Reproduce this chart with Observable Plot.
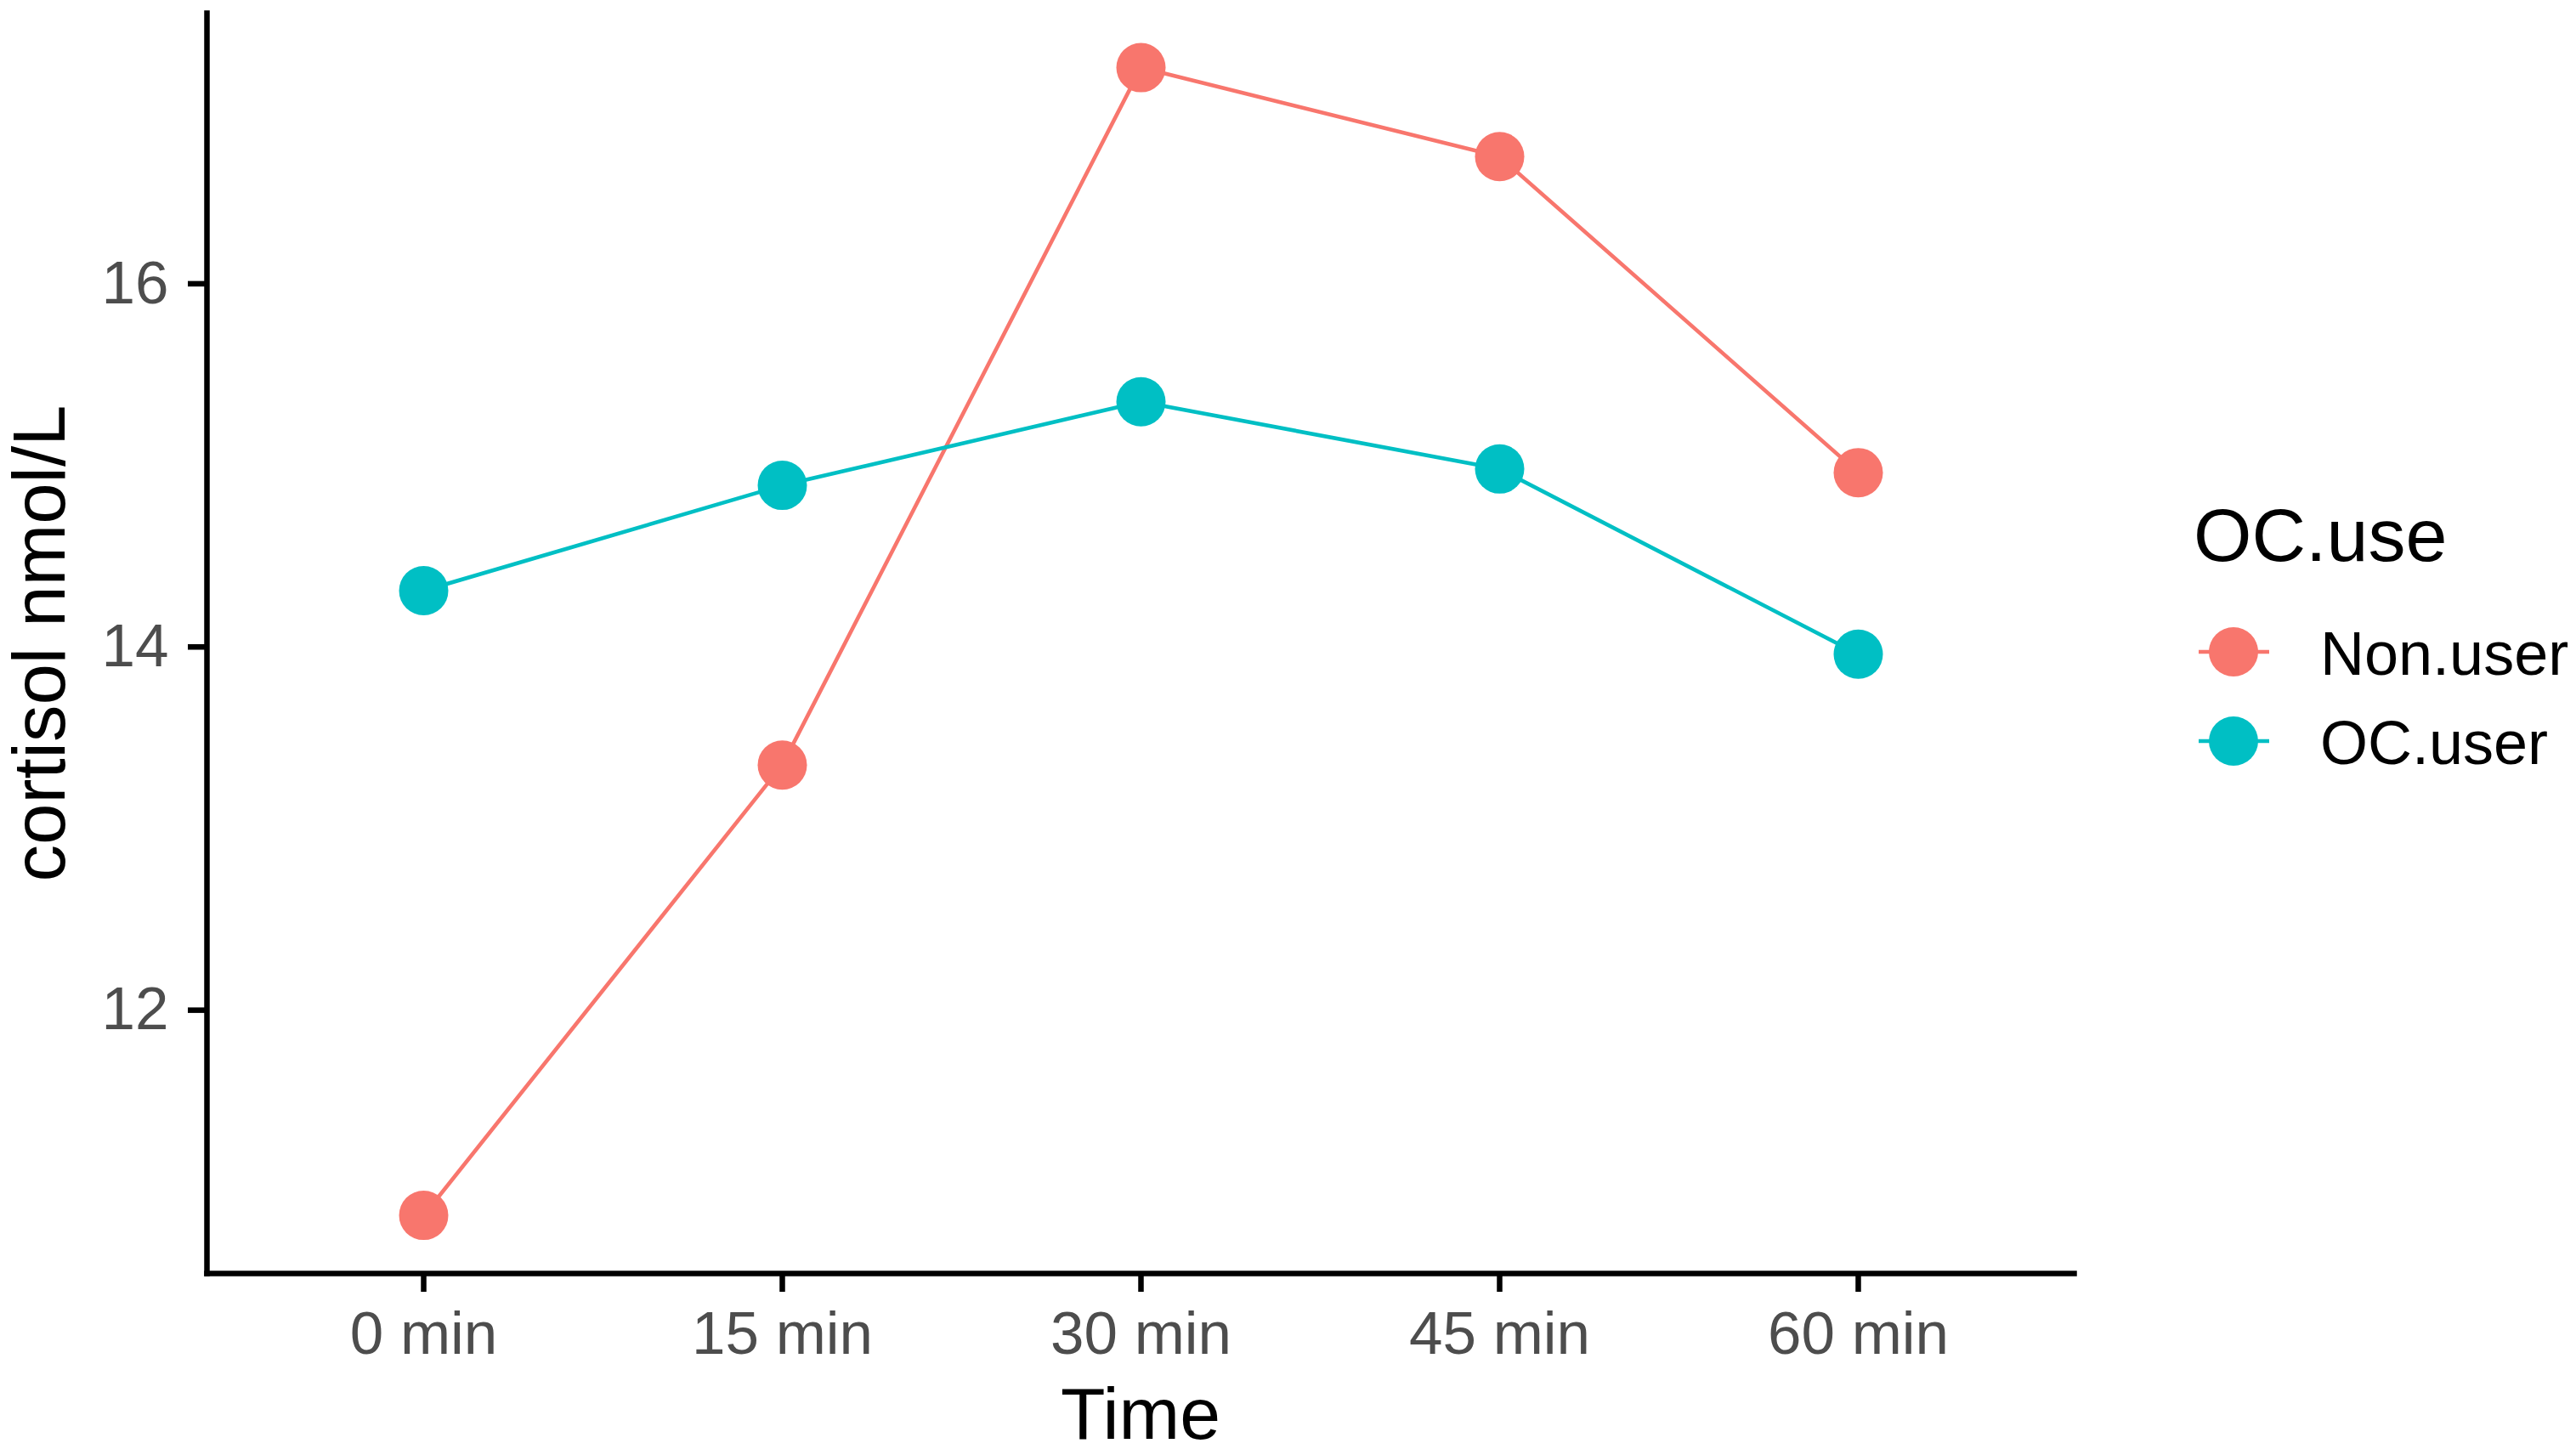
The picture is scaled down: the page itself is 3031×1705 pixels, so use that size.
<!DOCTYPE html>
<html><head><meta charset="utf-8">
<script src="https://cdn.jsdelivr.net/npm/d3@7"></script>
<script src="https://cdn.jsdelivr.net/npm/@observablehq/plot@0.6"></script>
<style>
html,body{margin:0;padding:0;background:#fff;overflow:hidden;}
#wrap{position:relative;width:3031px;height:1705px;font-family:"Liberation Sans",Arial,sans-serif;}
#legend{position:absolute;left:2560px;top:560px;}
</style></head><body><div id="wrap"></div>
<script>
const times = ["0 min", "15 min", "30 min", "45 min", "60 min"];
const groups = ["Non.user", "OC.user"];
const nonUser = [10.87, 13.35, 17.19, 16.70, 14.96];
const ocUser = [14.31, 14.89, 15.35, 14.98, 13.96];
const yTicks = [12, 14, 16];
const colors = ["#F8766D", "#00BFC4"];
const xTitle = "Time";
const yTitle = "cortisol nmol/L";
const legendTitle = "OC.use";

const series = [nonUser, ocUser];
const data = groups.flatMap((g, gi) => times.map((t, i) => ({time: t, group: g, value: series[gi][i]})));

const font = "Liberation Sans, Arial, sans-serif";
const plot = Plot.plot({
  width: 3031, height: 1705,
  marginLeft: 243, marginRight: 591, marginTop: 15, marginBottom: 207,
  style: {fontFamily: font, background: "white", overflow: "visible"},
  x: {type: "point", domain: times, padding: 0.6, label: null},
  y: {domain: [10.55, 17.49], label: null},
  color: {domain: groups, range: colors},
  marks: [
    Plot.axisX({tickSize: 22, tickPadding: 22, fontSize: 71, stroke: "black", strokeWidth: 6.5, fill: "#4d4d4d", label: null}),
    Plot.axisY({ticks: yTicks, tickFormat: d => String(d), tickSize: 22, tickPadding: 23, fontSize: 71, stroke: "black", strokeWidth: 6.5, fill: "#4d4d4d", label: null}),
    Plot.frame({anchor: "left", stroke: "black", strokeWidth: 6.5}),
    Plot.frame({anchor: "bottom", stroke: "black", strokeWidth: 6.5}),
    Plot.line(data, {x: "time", y: "value", z: "group", stroke: "group", strokeWidth: 4.6}),
    Plot.dot(data, {x: "time", y: "value", fill: "group", r: 29}),
    Plot.text([xTitle], {frameAnchor: "bottom", textAnchor: "middle", dy: 166.5, fontSize: 86, lineAnchor: "middle", fill: "black", fontFamily: font}),
    Plot.text([yTitle], {frameAnchor: "left", textAnchor: "middle", rotate: -90, dx: -195, fontSize: 87, lineAnchor: "middle", fill: "black", fontFamily: font})
  ]
});
const wrap = document.getElementById("wrap");
wrap.appendChild(plot);

// legend
const lg = d3.select(wrap).append("svg").attr("id", "legend").attr("width", 471).attr("height", 380)
  .style("font-family", font);
lg.append("text").attr("x", 21).attr("y", 100).attr("font-size", 88).attr("fill", "black").text(legendTitle);
groups.forEach((g, i) => {
  const cy = 207 + i * 105;
  lg.append("line").attr("x1", 27).attr("x2", 110).attr("y1", cy).attr("y2", cy)
    .attr("stroke", colors[i]).attr("stroke-width", 4.6);
  lg.append("circle").attr("cx", 68).attr("cy", cy).attr("r", 29).attr("fill", colors[i]);
  lg.append("text").attr("x", 170).attr("y", cy + 27).attr("font-size", 72).attr("fill", "black").text(g);
});
</script></body></html>
